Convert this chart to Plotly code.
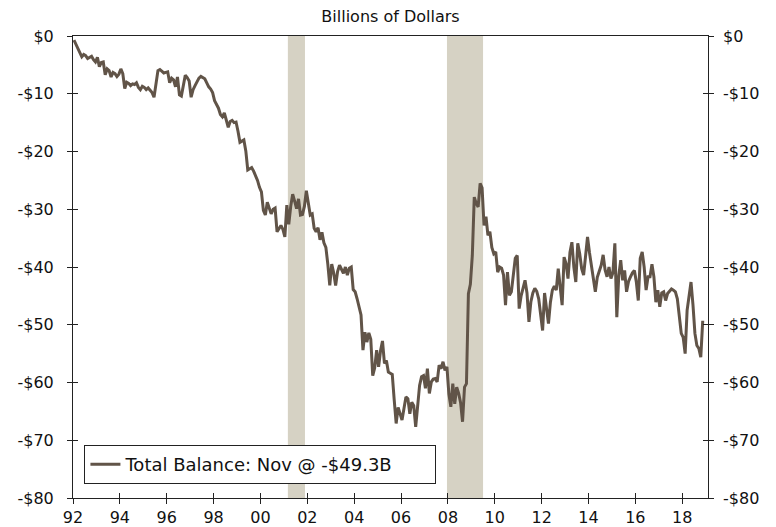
import plotly.graph_objects as go

start_year = 1992
balance_bn = [
    -0.7, -1.5, -2.3, -2.9, -3.6, -3.2, -3.4, -3.9, -3.7, -3.5, -4.1, -4.5,
    -3.7, -5.3, -4.6, -4.5, -6.7, -5.7, -6.0, -7.1, -6.3, -6.5, -7.0, -6.6,
    -5.7, -6.5, -9.1, -8.0, -8.2, -8.6, -8.3, -8.4, -8.1, -8.9, -9.3, -8.7,
    -8.9, -9.3, -9.0, -9.5, -9.8, -10.6, -8.2, -6.0, -5.8, -6.1, -6.4, -6.3,
    -6.2, -8.1, -7.3, -7.6, -8.8, -7.1, -10.2, -10.4, -8.5, -6.8, -7.2, -7.8,
    -10.6, -9.3, -8.6, -8.0, -7.3, -7.0, -7.2, -7.4, -8.1, -8.8, -9.2, -9.8,
    -11.2, -11.8, -12.5, -13.6, -14.0, -13.3, -14.6, -15.8, -14.8, -14.6, -15.0, -14.9,
    -16.5, -18.4, -18.2, -18.0, -19.9, -23.2, -23.0, -22.8, -23.4, -24.1, -25.0, -26.2,
    -27.0, -30.2, -31.0, -28.8, -29.9, -30.8, -30.0, -29.8, -33.9, -33.3, -32.8, -33.5,
    -34.8, -29.3, -32.6, -29.5, -27.4, -28.6, -29.9, -28.2, -31.0, -30.9, -29.5, -26.8,
    -28.6, -31.0, -30.8, -33.3, -33.9, -33.2, -35.3, -34.0, -35.8, -36.6, -39.5, -43.2,
    -39.5, -41.0, -43.2, -40.8, -39.7, -40.5, -41.1, -40.0, -41.4, -40.2, -40.0, -43.9,
    -44.3, -45.5, -46.9, -48.3, -54.4, -51.3, -53.0, -51.4, -52.5, -58.8, -57.5, -54.4,
    -57.3, -54.5, -52.8, -56.7, -56.2, -58.2, -58.4, -58.6, -63.0, -67.1, -64.3, -65.5,
    -66.5, -64.5, -62.5, -62.8, -65.4, -63.4, -64.0, -67.7, -64.2, -60.5, -59.0, -58.8,
    -61.0, -57.6, -61.9, -59.9, -59.4, -59.3, -59.9, -57.0, -57.6, -56.4, -57.9, -57.3,
    -62.0, -64.2, -60.2, -63.7, -60.8, -61.9, -63.5, -66.8, -60.8, -60.2, -44.6, -43.0,
    -38.0, -27.9, -29.0, -29.6, -25.5, -26.3, -32.8, -31.3, -34.5, -33.9, -36.6, -37.7,
    -37.4, -40.9, -40.0, -40.2, -41.4, -46.6, -40.9, -44.9, -44.3, -41.0, -38.5, -38.0,
    -47.2, -45.0, -43.5, -42.3, -44.5, -49.5, -46.0, -44.5, -43.7, -44.2, -45.5, -48.7,
    -51.0, -44.5, -47.0, -49.8, -46.1, -44.0, -43.3, -44.0, -40.3, -43.0, -46.6, -38.3,
    -39.4, -42.0, -37.5, -35.7, -40.0, -42.6, -35.9, -37.7, -40.3, -41.4, -38.0, -34.8,
    -37.5, -40.0, -42.0, -44.3, -41.8, -40.6, -39.7, -37.9, -40.5, -41.7, -40.0, -42.0,
    -41.0, -35.9, -48.7, -41.5, -38.8, -42.3, -40.6, -44.3, -42.5, -41.7, -41.0, -40.6,
    -42.6, -45.8, -38.5, -37.4, -40.0, -44.0, -41.7, -41.7, -39.5, -41.7, -46.1, -44.0,
    -46.9, -44.5, -44.3, -45.8, -44.6, -44.2, -43.8, -44.0, -44.3, -45.5, -48.1, -51.5,
    -52.2, -55.0, -47.5, -45.0, -42.6, -46.5, -51.5, -53.6, -54.1, -55.6, -49.3,
]
recession_start = [2001.17, 2007.96]
recession_end = [2001.9, 2009.5]
tick_years = list(range(1992, 2019, 2))
tick_labels = ["92", "94", "96", "98", "00", "02", "04", "06", "08", "10", "12", "14", "16", "18"]
y_ticks = [0, -10, -20, -30, -40, -50, -60, -70, -80]
y_labels = ["$0", "-$10", "-$20", "-$30", "-$40", "-$50", "-$60", "-$70", "-$80"]
series_name = "Total Balance: Nov @ -$49.3B"

x_vals = [start_year + (i + 0.5) / 12 for i in range(len(balance_bn))]

FONT = "DejaVu Sans"
LINE = "#615448"
AX = "#222222"

# the page body adds an 8px offset, so the figure is sized/margined to compensate
W, H = 768, 519

fig = go.Figure()
fig.add_trace(go.Scatter(x=x_vals, y=balance_bn, mode="lines", name=series_name,
                         line=dict(color=LINE, width=3), hoverinfo="skip"))
fig.add_trace(go.Scatter(x=x_vals, y=balance_bn, mode="lines", xaxis="x2", yaxis="y2",
                         line=dict(color="rgba(0,0,0,0)", width=0), showlegend=False,
                         hoverinfo="skip"))

for s, e in zip(recession_start, recession_end):
    fig.add_shape(type="rect", xref="x", yref="paper", x0=s, x1=e, y0=0, y1=1,
                  fillcolor="#d6d2c4", line=dict(width=0), layer="below")

xr = [1992, 2019.1]
yr = [-80, 0]
common_y = dict(range=yr, tickvals=y_ticks, ticktext=y_labels, showgrid=False, zeroline=False,
                automargin=False, ticklen=5, tickcolor=AX, tickwidth=1,
                tickfont=dict(family=FONT, size=16, color="#111"))
fig.update_layout(
    width=W, height=H,
    margin=dict(l=65, r=68, t=28, b=29),
    paper_bgcolor="white", plot_bgcolor="white",
    title=dict(text="Billions of Dollars", x=0.5, xref="paper", xanchor="center",
               y=1 - 8 / H, yref="container", yanchor="middle",
               font=dict(family=FONT, size=16, color="#111")),
    xaxis=dict(range=xr, tickvals=tick_years, ticktext=tick_labels, showgrid=False, zeroline=False,
               automargin=False, showline=True, linecolor=AX, linewidth=1, mirror=True,
               ticks="outside", ticklen=5, tickcolor=AX, ticklabelstandoff=0,
               tickfont=dict(family=FONT, size=16, color="#111")),
    xaxis2=dict(range=xr, overlaying="x", anchor="y2", side="bottom", tickvals=tick_years,
                automargin=False, showticklabels=False, showgrid=False, zeroline=False,
                showline=False, ticks="inside", ticklen=5, tickcolor=AX),
    yaxis=dict(**common_y, side="left", showline=True, linecolor=AX, linewidth=1,
               mirror="ticks", ticks="outside", ticklabelstandoff=10),
    yaxis2=dict(**common_y, side="right", overlaying="y", anchor="x2", showline=False,
                mirror="ticks", ticks="inside", ticklabelstandoff=14),
    legend=dict(x=0.018, y=0.03, xanchor="left", yanchor="bottom", bgcolor="white",
                orientation="h", bordercolor="#222", borderwidth=1,
                font=dict(family=FONT, size=18, color="#111"),
                entrywidth=305, entrywidthmode="pixels"),
    showlegend=True,
)

fig.write_html("out.html")
